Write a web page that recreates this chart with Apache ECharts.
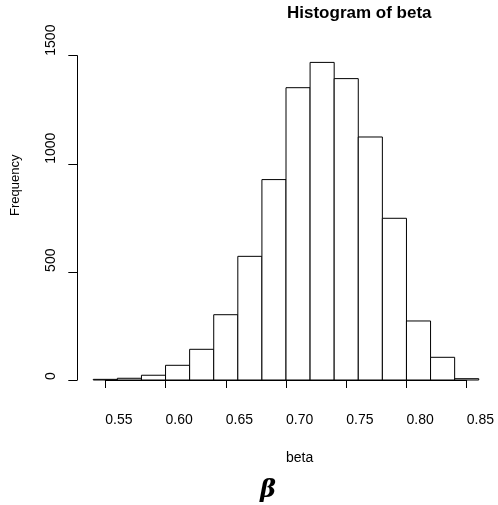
<!DOCTYPE html>
<html>
<head>
<meta charset="utf-8">
<script src="https://cdn.jsdelivr.net/npm/echarts@6/dist/echarts.min.js"></script>
<style>
  html, body { margin: 0; padding: 0; background: #fff; }
  #chart { width: 498px; height: 505px; }
</style>
</head>
<body>
<div id="chart"></div>
<script>
// histogram breaks (bin edges) and counts per bin
const breaks = [0.54, 0.56, 0.58, 0.60, 0.62, 0.64, 0.66, 0.68, 0.70, 0.72, 0.74, 0.76, 0.78, 0.80, 0.82, 0.84, 0.86]
const counts = [3, 8, 22, 68, 142, 302, 572, 927, 1352, 1469, 1394, 1124, 748, 273, 105, 6]
const xTicks = [0.55, 0.60, 0.65, 0.70, 0.75, 0.80, 0.85]
const yTicks = [0, 500, 1000, 1500]

const font = 'Liberation Sans, Arial, sans-serif'

// one item per bin: [left edge, right edge, count]
const bins = counts.map((c, i) => [breaks[i], breaks[i + 1], c])

const chart = echarts.init(document.getElementById('chart'))

const option = {
  backgroundColor: '#fff',
  animation: false,
  title: {
    text: 'Histogram of beta',
    left: 287,
    top: 5,
    padding: 0,
    textStyle: { fontFamily: font, fontSize: 17, fontWeight: 'bold', color: '#000' }
  },
  grid: { left: 105.3, right: 31.3, top: 55.7, bottom: 125 },
  xAxis: {
    type: 'value',
    min: xTicks[0],
    max: xTicks[xTicks.length - 1],
    interval: 0.05,
    offset: 12,
    splitLine: { show: false },
    axisLine: { lineStyle: { color: '#000', width: 1 } },
    axisTick: { length: 8, lineStyle: { color: '#000' } },
    axisLabel: {
      margin: 21,
      align: 'left',
      verticalAlign: 'top',
      fontFamily: font,
      fontSize: 14,
      color: '#000',
      formatter: v => v.toFixed(2)
    }
  },
  yAxis: {
    type: 'value',
    min: yTicks[0],
    max: yTicks[yTicks.length - 1],
    interval: 500,
    offset: 28,
    splitLine: { show: false },
    axisLine: { show: true, lineStyle: { color: '#000', width: 1 } },
    axisTick: { show: true, length: 9, lineStyle: { color: '#000' } },
    axisLabel: {
      rotate: 90,
      margin: 19,
      align: 'left',
      verticalAlign: 'bottom',
      fontFamily: font,
      fontSize: 14,
      color: '#000',
      formatter: v => String(v)
    }
  },
  graphic: [
    {
      type: 'text',
      x: 22, y: 216,
      rotation: Math.PI / 2,
      style: { text: 'Frequency', fontFamily: font, fontSize: 13, fill: '#000', align: 'left', verticalAlign: 'bottom' }
    },
    {
      type: 'text',
      x: 286, y: 451,
      style: { text: 'beta', fontFamily: font, fontSize: 14, fill: '#000', align: 'left', verticalAlign: 'top' }
    },
    {
      type: 'text',
      x: 260, y: 479,
      style: { text: 'β', fontFamily: 'DejaVu Serif, Liberation Serif, serif', fontSize: 24, fontStyle: 'italic', fontWeight: 'bold', fill: '#000', align: 'left', verticalAlign: 'top' }
    }
  ],
  series: [
    {
      type: 'custom',
      clip: false,
      data: bins,
      renderItem: (params, api) => {
        const p0 = api.coord([api.value(0), api.value(2)])
        const p1 = api.coord([api.value(1), 0])
        return {
          type: 'rect',
          shape: { x: p0[0], y: p0[1], width: p1[0] - p0[0], height: p1[1] - p0[1] },
          style: { fill: '#fff', stroke: '#000', lineWidth: 1 }
        }
      }
    }
  ]
}

chart.setOption(option)
</script>
</body>
</html>
